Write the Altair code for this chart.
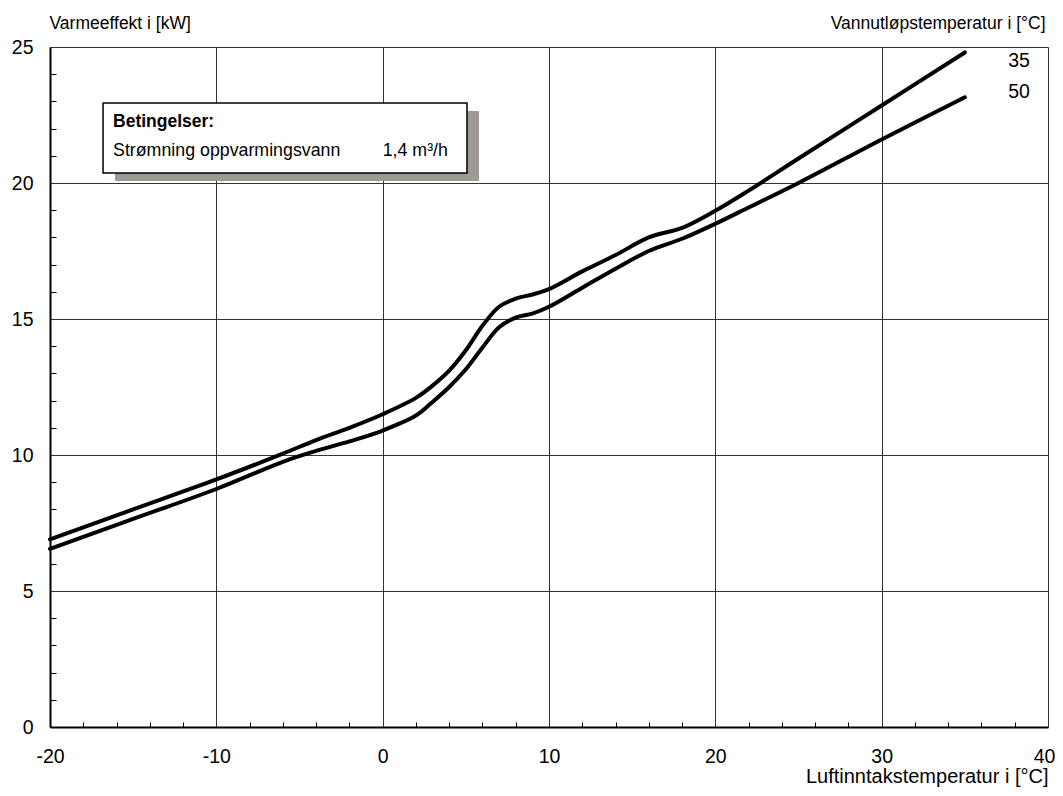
import altair as alt
import pandas as pd

# ---- data ----
x_temp = [-20, -15, -10, -6, -4, -2, 0, 2, 3, 4, 5, 6, 7, 8, 9, 10, 12, 14, 16, 18, 20, 22, 25, 30, 35]
y_35 = [6.9, 8.0, 9.1, 10.05, 10.55, 11.0, 11.5, 12.1, 12.55, 13.1, 13.85, 14.75, 15.45, 15.75, 15.9,
        16.1, 16.75, 17.35, 18.0, 18.35, 18.98, 19.72, 20.9, 22.85, 24.8]
y_50 = [6.55, 7.65, 8.75, 9.75, 10.15, 10.5, 10.9, 11.45, 11.95, 12.5, 13.15, 13.95, 14.7, 15.05, 15.2,
        15.45, 16.15, 16.85, 17.5, 17.95, 18.5, 19.1, 20.0, 21.6, 23.15]
series_names = ["35", "50"]

x_major = [-20, -10, 0, 10, 20, 30, 40]
y_major = [0, 5, 10, 15, 20, 25]
x_minor = [v for v in range(-18, 40, 2) if v % 10 != 0]
y_minor = [v for v in range(1, 25) if v % 5 != 0]

# annotation placement (data units)
label_x = [38.26, 38.26]
label_y = [24.47, 23.36]
box_x = [-16.81, 5.07]
box_y = [20.37, 22.94]
shadow_x = [-16.09, 5.79]
shadow_y = [20.07, 22.65]
box_text_x = [-16.21, -16.21, 0.0]
box_text_y = [22.24, 21.18, 21.18]
box_texts = ["Betingelser:", "Strømning oppvarmingsvann", "1,4 m³/h"]
box_weights = ["bold", "normal", "normal"]

FONT = "Liberation Sans"
W, H = 998, 680

rows = []
for xv, a, b in zip(x_temp, y_35, y_50):
    rows.append({"x": xv, "y": a, "series": series_names[0]})
    rows.append({"x": xv, "y": b, "series": series_names[1]})
df = pd.DataFrame(rows)

xs = alt.Scale(domain=[-20, 40], nice=False, zero=False)
ys = alt.Scale(domain=[0, 25], nice=False, zero=False)

x_axis = alt.Axis(values=x_major, grid=True, gridColor="#333333", gridWidth=1, ticks=False,
                  domain=True, domainColor="black", domainWidth=2,
                  labelFont=FONT, labelFontSize=19.5, labelColor="black", labelPadding=20,
                  labelFlush=False, labelOverlap=False, labelExpr="'' + datum.value",
                  labelOffset={"condition": {"test": "datum.value === 40", "value": -4}, "value": 0},
                  title="Luftinntakstemperatur i [°C]", titleFont=FONT, titleFontSize=20,
                  titleFontWeight="normal", titleColor="black", titleAlign="right",
                  titleBaseline="alphabetic", titleX=W, titleY=55, titleAngle=0)
y_axis = alt.Axis(values=y_major, grid=True, gridColor="#333333", gridWidth=1, ticks=False,
                  domain=True, domainColor="black", domainWidth=2,
                  labelFont=FONT, labelFontSize=19.5, labelColor="black", labelPadding=17,
                  labelFlush=False, labelOverlap=False, labelExpr="'' + datum.value",
                  title="Varmeeffekt i [kW]", titleFont=FONT, titleFontSize=17.5,
                  titleFontWeight="normal", titleColor="black", titleAlign="left",
                  titleBaseline="alphabetic", titleX=-1, titleY=-19, titleAngle=0)

lines = alt.Chart(df).mark_line(interpolate="catmull-rom", color="black", strokeWidth=4,
                                strokeCap="round").encode(
    x=alt.X("x:Q", scale=xs, axis=x_axis),
    y=alt.Y("y:Q", scale=ys, axis=y_axis),
    detail="series:N",
)

minor = alt.Chart(df).mark_line(opacity=0).encode(
    x=alt.X("x:Q", scale=xs, axis=alt.Axis(orient="top", offset=-H, values=x_minor, labels=False,
                                           ticks=True, tickSize=5, tickColor="black", tickWidth=1,
                                           domain=False, grid=False, title=None)),
    y=alt.Y("y:Q", scale=ys, axis=alt.Axis(orient="right", offset=-W, values=y_minor, labels=False,
                                           ticks=True, tickSize=6, tickColor="black", tickWidth=1,
                                           domain=False, grid=False,
                                           title="Vannutløpstemperatur i [°C]", titleFont=FONT,
                                           titleFontSize=17.5, titleFontWeight="normal",
                                           titleColor="black", titleAlign="right",
                                           titleBaseline="alphabetic", titleAngle=0,
                                           titleX=W - 3, titleY=-19)),
    detail="series:N",
)

shadow_df = pd.DataFrame({"x1": [shadow_x[0]], "x2": [shadow_x[1]], "y1": [shadow_y[0]], "y2": [shadow_y[1]]})
box_df = pd.DataFrame({"x1": [box_x[0]], "x2": [box_x[1]], "y1": [box_y[0]], "y2": [box_y[1]]})

shadow = alt.Chart(shadow_df).mark_rect(color="#9e9a96").encode(
    x=alt.X("x1:Q", scale=xs, axis=None), x2="x2:Q",
    y=alt.Y("y1:Q", scale=ys, axis=None), y2="y2:Q",
)
box = alt.Chart(box_df).mark_rect(fill="white", stroke="black", strokeWidth=1.5).encode(
    x=alt.X("x1:Q", scale=xs, axis=None), x2="x2:Q",
    y=alt.Y("y1:Q", scale=ys, axis=None), y2="y2:Q",
)

bt_df = pd.DataFrame({"x": box_text_x, "y": box_text_y, "t": box_texts, "w": box_weights})
bt_bold = alt.Chart(bt_df[bt_df.w == "bold"]).mark_text(
    font=FONT, fontSize=17.5, fontWeight="bold", align="left", baseline="middle", color="black"
).encode(x=alt.X("x:Q", scale=xs, axis=None), y=alt.Y("y:Q", scale=ys, axis=None), text="t:N")
bt_norm = alt.Chart(bt_df[bt_df.w == "normal"]).mark_text(
    font=FONT, fontSize=17.8, fontWeight="normal", align="left", baseline="middle", color="black"
).encode(x=alt.X("x:Q", scale=xs, axis=None), y=alt.Y("y:Q", scale=ys, axis=None), text="t:N")

lab_df = pd.DataFrame({"x": label_x, "y": label_y, "t": series_names})
labels = alt.Chart(lab_df).mark_text(
    font=FONT, fontSize=19.5, align="center", baseline="middle", color="black"
).encode(x=alt.X("x:Q", scale=xs, axis=None), y=alt.Y("y:Q", scale=ys, axis=None), text="t:N")

chart = alt.layer(lines, minor, shadow, box, bt_bold, bt_norm, labels).resolve_axis(
    x="independent", y="independent"
).properties(
    width=W, height=H,
    autosize=alt.AutoSizeParams(type="none"),
    padding={"left": 42, "top": 39, "right": 7, "bottom": 60},
).configure_view(stroke="black", strokeWidth=1.5).configure(background="white")

chart.save("out.html", embed_options={"renderer": "svg", "actions": False})
